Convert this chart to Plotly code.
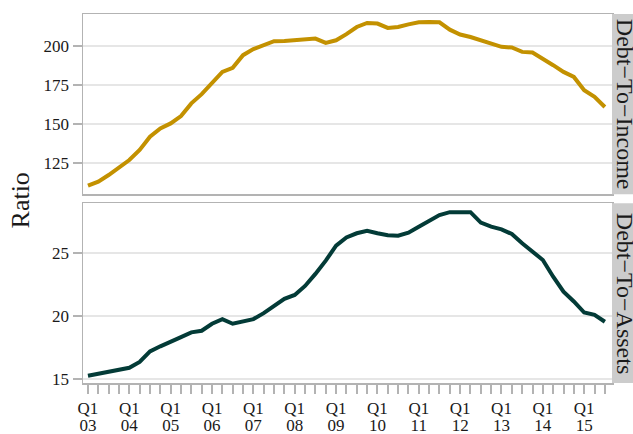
import plotly.graph_objects as go
import pandas as pd

# ---- data ----
quarters = [str(p) for p in pd.period_range("2003Q1", "2015Q3", freq="Q")]
q1_labels = ["Q1" if q.endswith("Q1") else "" for q in quarters]
year_labels = [q[2:4] if q.endswith("Q1") else "" for q in quarters]

debt_to_income = [110.7, 113.3, 117.5, 122.4, 127.1, 133.5, 142.0, 147.3, 150.5, 155.2,
                  163.3, 169.2, 176.0, 183.4, 186.0, 194.1, 198.0, 200.4, 203.0, 203.2,
                  203.8, 204.7, 204.7, 201.9, 203.6, 207.5, 212.1, 214.7, 214.3, 211.5,
                  212.1, 213.8, 215.1, 215.3, 215.1, 210.4, 207.3, 205.7, 203.6, 201.5,
                  199.4, 199.0, 196.2, 195.8, 192.0, 187.7, 183.4, 180.2, 171.7, 167.5,
                  161.0]
debt_to_assets = [15.27, 15.43, 15.60, 15.72, 15.90, 16.36, 17.20, 17.60, 17.93, 18.33,
                  18.70, 18.83, 19.38, 19.75, 19.38, 19.56, 19.75, 20.22, 20.80, 21.35,
                  21.66, 22.37, 23.32, 24.37, 25.55, 26.20, 26.53, 26.73, 26.53, 26.37,
                  26.34, 26.58, 27.05, 27.52, 27.97, 28.20, 28.20, 28.20, 27.37, 27.05,
                  26.84, 26.47, 25.74, 25.08, 24.42, 23.10, 21.92, 21.14, 20.27, 20.09,
                  19.54]
income_ticks = [125, 150, 175, 200]
assets_ticks = [15, 20, 25]
panel_labels = ["Debt\u2212To\u2212Income", "Debt\u2212To\u2212Assets"]

# ---- style ----
FONT = "Liberation Serif"
GOLD = "#c39100"
TEAL = "#033b37"
BORDER = "#b3b3b3"
GRID = "#e6e6e6"
STRIP = "#cccccc"
TXT = "#1a1a1a"

W, H = 633, 434
ml, mr, mt, mb = 83, 21.3, 13.7, 50.7
pw = W - ml - mr
ph = H - mt - mb
top_dom = [(383.3 - 194.3) / ph, 1.0]
bot_dom = [0.0, (383.3 - 203.3) / ph]

xpos = list(range(len(quarters)))

fig = go.Figure()
fig.add_trace(go.Scatter(x=xpos, y=debt_to_income, mode="lines",
                         line=dict(color=GOLD, width=4), xaxis="x", yaxis="y",
                         showlegend=False, hoverinfo="skip"))
fig.add_trace(go.Scatter(x=xpos, y=debt_to_assets, mode="lines",
                         line=dict(color=TEAL, width=4), xaxis="x2", yaxis="y2",
                         showlegend=False, hoverinfo="skip"))
# empty placeholder so the year-label axis is drawn
fig.add_trace(go.Scatter(x=xpos, y=[None] * len(xpos), mode="lines",
                         xaxis="x3", yaxis="y2", showlegend=False, hoverinfo="skip"))

xr = [-0.48, 50.69]
common_x = dict(type="linear", range=xr, showgrid=False, zeroline=False,
                automargin=False)
common_y = dict(showgrid=True, gridcolor=GRID, gridwidth=2, zeroline=False,
                showline=True, mirror=True, linecolor=BORDER, linewidth=1.5,
                ticks="outside", ticklen=9, tickwidth=2, tickcolor=BORDER,
                automargin=False,
                tickfont=dict(family=FONT, size=17, color=TXT))

fig.update_layout(
    width=W, height=H,
    margin=dict(l=ml, r=mr, t=mt, b=mb, pad=0, autoexpand=False),
    paper_bgcolor="white", plot_bgcolor="white",
    font=dict(family=FONT, color=TXT),
    xaxis=dict(**common_x, domain=[0, 1], anchor="y", showticklabels=False,
               ticks="", showline=True, mirror=True, linecolor=BORDER, linewidth=1.5),
    xaxis2=dict(**common_x, domain=[0, 1], anchor="y2",
                showline=True, mirror=True, linecolor=BORDER, linewidth=1.5,
                tickmode="array", tickvals=xpos, ticktext=q1_labels,
                ticks="outside", ticklen=9, tickwidth=2, tickcolor=BORDER,
                tickangle=0, ticklabelstandoff=0,
                tickfont=dict(family=FONT, size=17, color=TXT)),
    xaxis3=dict(**common_x, domain=[0, 1], anchor="y2", overlaying="x2", side="bottom",
                showline=False, tickmode="array", tickvals=xpos, ticktext=year_labels,
                ticks="outside", ticklen=9, tickwidth=2, tickcolor="rgba(0,0,0,0)",
                tickangle=0, ticklabelstandoff=18,
                tickfont=dict(family=FONT, size=17, color=TXT)),
    yaxis=dict(**common_y, domain=top_dom, anchor="x",
               range=[105.2, 220.4], tickmode="array", tickvals=income_ticks),
    yaxis2=dict(**common_y, domain=bot_dom, anchor="x2",
                range=[14.7, 28.9], tickmode="array", tickvals=assets_ticks),
)

# facet strips on the right
for dom, lab in zip([top_dom, bot_dom], panel_labels):
    fig.add_shape(type="rect", xref="paper", yref="paper",
                  x0=1.0, x1=1.2, y0=dom[0], y1=dom[1],
                  fillcolor=STRIP, line=dict(width=0), layer="above")
    fig.add_annotation(xref="paper", yref="paper", x=1.0 + (625 - 611.7) / pw,
                       y=(dom[0] + dom[1]) / 2, text=lab, textangle=90,
                       showarrow=False, xanchor="center", yanchor="middle",
                       font=dict(family=FONT, size=24, color=TXT))

# y-axis title
fig.add_annotation(xref="paper", yref="paper", x=(21.5 - ml) / pw,
                   y=(H - mb - 200) / ph, text="Ratio", textangle=-90,
                   showarrow=False, xanchor="center", yanchor="middle",
                   font=dict(family=FONT, size=26, color=TXT))

fig.write_html("out.html",
               config={"displayModeBar": False, "staticPlot": True},
               post_script="document.body.style.margin='0';"
                           "document.body.style.overflow='hidden';")
